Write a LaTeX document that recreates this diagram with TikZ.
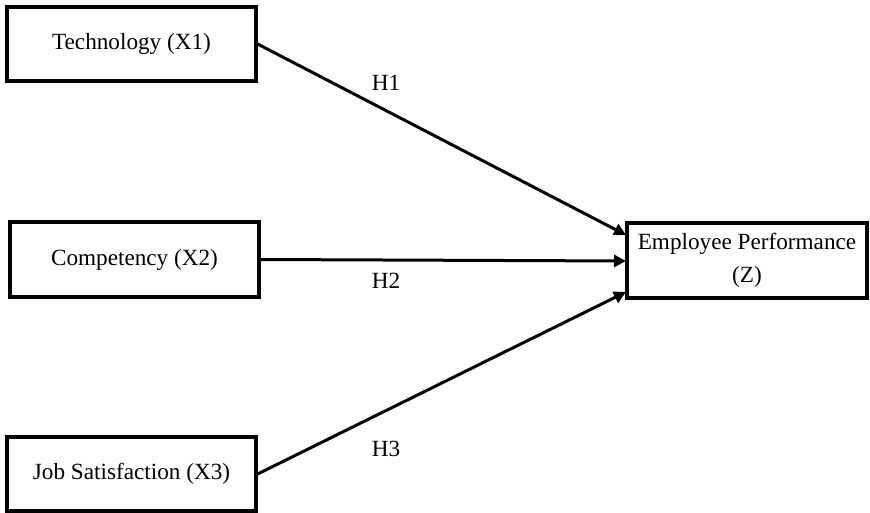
\documentclass[tikz,border=0pt]{standalone}
\usepackage{fontspec}
\setmainfont{Liberation Serif}
\usetikzlibrary{arrows.meta}
\begin{document}
\begin{tikzpicture}[x=1pt,y=-1pt,
  box/.style={draw, line width=3.2pt, inner sep=0pt},
  conn/.style={line width=3pt, -{Triangle[length=12pt,width=12pt]}},
  lbl/.style={font=\fontsize{23.2}{27}\selectfont},
  font=\fontsize{23.2}{33}\selectfont]
\useasboundingbox (0,0) rectangle (870,513);
\node[box, minimum width=249pt, minimum height=74pt] (x1) at (131.5,44) {Technology (X1)};
\node[box, minimum width=249pt, minimum height=75pt] (x2) at (134.5,259.5) {Competency (X2)};
\node[box, minimum width=249pt, minimum height=74pt] (x3) at (131.5,474) {Job Satisfaction (X3)};
\node[box, minimum width=240pt, minimum height=75pt, align=center] (z) at (747,260.5) {Employee Performance\\(Z)};
\coordinate (z1) at (626,235);
\coordinate (z2) at (626,261);
\coordinate (z3) at (626,292);
\draw[conn] (x1.east) -- (z1);
\draw[conn] (x2.east) -- (z2);
\draw[conn] (x3.east) -- (z3);
\node[lbl] (h1) at (386,83) {H1};
\node[lbl] (h2) at (386,281) {H2};
\node[lbl] (h3) at (386,449) {H3};
\end{tikzpicture}
\end{document}
